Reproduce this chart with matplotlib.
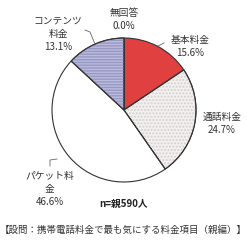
import matplotlib
matplotlib.use("Agg")
import matplotlib.pyplot as plt
from matplotlib.patches import Wedge

plt.rcParams['font.family'] = ['Noto Sans CJK JP', 'DejaVu Sans']

labels = ["基本料金", "通話料金", "パケット料\n金", "コンテンツ\n料金", "無回答"]
values = [15.6, 24.7, 46.6, 13.1, 0.0]
colors = ["#E0403F", "#F3F0F0", "#FFFFFF", "#BBBBDD", "#FFFFFF"]
hatches = [None, ".....", None, "------", None]
hatch_colors = [None, "#D6D0D0", None, "#9898C4", None]

# label anchor points in pixel coords (x, y from top)
label_pos = [(190, 35), (222, 112), (50, 171), (58, 16), (124, 8)]

fig = plt.figure(figsize=(2.47, 2.40), dpi=100)
ax = fig.add_axes([0, 0, 1, 1])

cx, cy, r = 124, 240 - 110, 72
wedges, _ = ax.pie(values, colors=colors, startangle=90, counterclock=False,
                   center=(cx, cy), radius=r, frame=True,
                   wedgeprops=dict(edgecolor="#333333", linewidth=0.8))
ax.set_xlim(0, 247)
ax.set_ylim(0, 240)
ax.axis("off")

for w, h, hc in zip(wedges, hatches, hatch_colors):
    if h:
        ax.add_patch(Wedge(w.center, w.r, w.theta1, w.theta2, fill=False,
                           hatch=h, edgecolor=hc, linewidth=0, zorder=w.get_zorder() + 0.1))
        ax.add_patch(Wedge(w.center, w.r, w.theta1, w.theta2, fill=False,
                           edgecolor="#333333", linewidth=0.8, zorder=w.get_zorder() + 0.2))

for lab, v, (x, y) in zip(labels, values, label_pos):
    ax.text(x, 240 - y, lab + "\n%.1f%%" % v, ha="center", va="top",
            fontsize=7, color="#333333", linespacing=1.4)

# leader lines
leaders = [
    [(158, 46), (164, 43)],
    [(95, 44), (90, 32), (85, 30)],
    [(50, 166), (50, 160), (57, 159)],
]
for pts in leaders:
    ax.plot([p[0] for p in pts], [240 - p[1] for p in pts], color="#666666", lw=0.6)

ax.text(124, 240 - 204, "n=親590人", ha="center", va="center", fontsize=7,
        fontweight="bold", color="#222222")
ax.text(123, 240 - 230, "【設問：携帯電話料金で最も気にする料金項目（親編）】",
        ha="center", va="center", fontsize=6.8, color="#333333")

fig.savefig("out.png", dpi=100)
